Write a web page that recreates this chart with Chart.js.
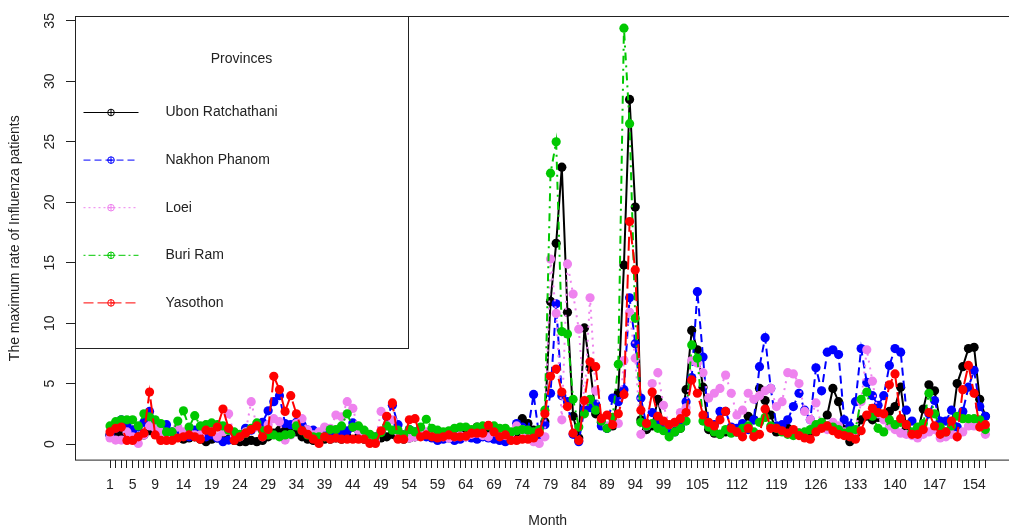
<!DOCTYPE html>
<html>
<head>
<meta charset="utf-8">
<script src="https://cdn.jsdelivr.net/npm/chart.js@4.4.0/dist/chart.umd.min.js"></script>
<style>
  html, body { margin: 0; padding: 0; background: #fff; overflow: hidden; }
  #wrap { width: 1030px; height: 530px; }
</style>
</head>
<body>
<div id="wrap"><canvas id="chart"></canvas></div>
<script>
// months 1..156 on the x axis
const months = Array.from({ length: 156 }, (_, i) => i + 1);
const labeledMonths = [1, 5, 9, 14, 19, 24, 29, 34, 39, 44, 49, 54, 59, 64, 69, 74, 79, 84, 89, 94, 99, 105, 112, 119, 126, 133, 140, 147, 154];
const yTicks = [0, 5, 10, 15, 20, 25, 30, 35];

const provinces = ["Ubon Ratchathani", "Nakhon Phanom", "Loei", "Buri Ram", "Yasothon"];

const ubon = [
  0.75, 0.6, 0.9, 0.8, 1.15, 0.6, 0.75, 1.1, 1.2, 0.5,
  0.4, 0.5, 0.6, 0.4, 0.5, 0.6, 0.4, 0.2, 0.4, 0.5,
  0.3, 0.4, 0.3, 0.2, 0.2, 0.3, 0.2, 0.3, 0.6, 0.9,
  1.15, 1.4, 1.4, 1.0, 0.6, 0.4, 0.3, 0.2, 0.4, 0.4,
  0.5, 0.4, 0.6, 1.4, 0.6, 0.4, 0.3, 0.3, 0.5, 0.6,
  0.8, 0.5, 0.4, 0.5, 0.6, 0.7, 0.8, 0.7, 0.6, 0.5,
  0.6, 0.7, 0.8, 0.9, 1.0, 1.4, 1.1, 0.9, 0.8, 0.7,
  0.6, 0.5, 1.0, 2.1, 1.7, 1.15, 0.9, 1.85, 11.8, 16.6,
  22.9, 10.9, 2.3, 0.5, 9.6, 6.3, 2.5, 1.8, 1.3, 1.5,
  4.2, 14.8, 28.5, 19.6, 2.0, 1.2, 1.5, 3.7, 1.5, 1.2,
  1.2, 1.3, 4.5, 9.4, 7.8, 4.7, 1.2, 0.9, 0.8, 1.0,
  1.2, 1.0, 1.5, 2.3, 2.0, 4.6, 3.6, 2.4, 1.0, 1.2,
  1.3, 1.0, 0.9, 0.7, 1.0, 1.5, 1.7, 2.4, 4.6, 3.5,
  1.2, 0.2, 0.8, 2.0, 2.3, 2.0, 2.2, 2.4, 2.7, 3.1,
  4.7, 1.3, 0.9, 1.0, 2.9, 4.9, 4.4, 1.8, 0.9, 1.4,
  5.0, 6.4, 7.9, 8.0, 3.7, 2.3
];

const nakhon = [
  0.75, 1.3, 2.0, 1.6, 1.15, 1.4, 1.8, 2.7, 1.8, 1.15,
  1.6, 1.0, 1.15, 0.75, 0.6, 1.15, 0.75, 0.6, 0.75, 0.5,
  0.2, 0.33, 0.5, 0.75, 1.3, 1.15, 1.6, 1.8, 2.75, 3.5,
  4.0, 1.7, 1.6, 1.8, 1.6, 1.15, 1.15, 0.95, 1.15, 0.75,
  0.9, 1.0, 1.1, 1.75, 1.15, 1.0, 0.75, 0.6, 1.0, 2.25,
  3.2, 1.6, 0.75, 1.2, 1.0, 0.8, 0.6, 0.5, 0.3, 0.4,
  0.5, 0.3, 0.4, 0.6, 0.5, 0.4, 0.6, 0.5, 0.4, 0.3,
  0.2, 0.4, 1.7, 1.4, 1.15, 4.1, 0.6, 1.6, 4.2, 11.6,
  4.0, 3.5, 0.8, 0.2, 2.9, 3.0, 3.3, 1.5, 1.3, 3.8,
  3.5, 4.5, 12.1, 8.3, 3.8, 1.5, 2.6, 2.0, 1.3, 1.2,
  1.0, 1.4, 3.5, 5.5, 12.6, 7.2, 1.6, 1.6, 2.7, 2.7,
  1.4, 1.3, 1.7, 1.2, 2.0, 6.4, 8.8, 4.6, 1.5, 1.6,
  2.0, 3.1, 4.2, 2.8, 2.0, 6.3, 4.4, 7.6, 7.8, 7.4,
  2.0, 1.5, 3.5, 7.9, 5.1, 4.0, 3.2, 4.0, 6.5, 7.9,
  7.6, 2.8, 1.9, 1.3, 1.0, 2.5, 3.6, 1.9, 1.9, 2.8,
  1.4, 2.7, 4.7, 6.1, 3.1, 2.3
];

const loei = [
  0.5, 0.33, 0.33, 1.0, 0.6, 0.05, 0.75, 1.5, 1.3, 1.0,
  0.8, 0.8, 1.4, 1.0, 0.9, 0.75, 0.75, 1.6, 1.2, 0.6,
  1.0, 2.5, 0.75, 0.6, 1.0, 3.5, 1.4, 0.6, 1.6, 2.1,
  1.85, 0.33, 0.75, 1.7, 2.1, 1.15, 0.75, 1.0, 1.4, 1.3,
  2.4, 2.25, 3.5, 2.95, 1.15, 0.75, 0.6, 0.33, 2.7, 1.5,
  2.0, 1.0, 0.6, 0.5, 0.6, 0.8, 1.0, 0.9, 0.7, 0.6,
  0.5, 0.6, 0.7, 0.6, 0.8, 0.9, 0.7, 0.6, 1.0, 0.8,
  0.7, 0.9, 1.5, 1.2, 0.8, 0.2, 0.05, 0.6, 15.3, 10.8,
  2.0, 14.9, 12.4, 9.5, 3.5, 12.1, 4.4, 2.0, 1.5, 1.8,
  1.7, 6.9, 10.9, 7.1, 0.8, 1.5, 5.0, 5.9, 3.2, 1.6,
  1.8, 2.6, 3.0, 6.9, 6.7, 5.9, 3.8, 4.2, 4.6, 5.7,
  4.2, 2.4, 2.8, 4.2, 3.7, 4.0, 4.4, 4.6, 3.1, 3.5,
  5.9, 5.8, 5.0, 2.7, 2.0, 3.4, 1.5, 1.2, 1.8, 1.5,
  1.0, 0.8, 1.0, 3.5, 7.8, 5.2, 2.5, 2.0, 1.5, 1.2,
  0.9, 0.8, 0.7, 0.5, 0.8, 1.0, 1.2, 0.5, 0.6, 0.8,
  0.6, 1.0, 1.5, 1.5, 1.5, 0.8
];

const buriRam = [
  1.5, 1.85, 2.0, 2.0, 2.0, 1.5, 2.5, 2.25, 2.0, 1.7,
  1.0, 1.0, 1.9, 2.75, 1.4, 2.35, 1.5, 1.6, 1.75, 1.6,
  1.5, 1.15, 1.0, 0.8, 0.9, 1.3, 1.75, 1.1, 0.75, 0.75,
  0.6, 0.75, 0.8, 1.5, 1.1, 0.75, 0.6, 0.6, 0.6, 1.2,
  1.2, 1.5, 2.5, 1.4, 1.5, 1.15, 0.8, 0.6, 0.95, 1.5,
  1.15, 1.15, 0.75, 1.2, 1.0, 1.4, 2.05, 1.3, 1.15, 1.0,
  1.1, 1.3, 1.4, 1.4, 1.2, 1.4, 1.5, 1.5, 1.5, 1.3,
  1.3, 1.0, 1.1, 1.2, 1.15, 1.0, 1.2, 2.8, 22.4, 25.0,
  9.3, 9.1, 3.7, 1.4, 2.5, 3.7, 2.8, 1.9, 1.3, 2.2,
  6.6, 34.4, 26.5, 10.4, 1.8, 1.5, 1.7, 1.3, 1.1, 0.6,
  1.0, 1.3, 1.9, 8.2, 7.1, 1.9, 1.4, 1.0, 0.8, 1.2,
  0.9, 1.0, 1.3, 1.5, 1.0, 1.8, 2.2, 1.5, 1.3, 1.0,
  0.8, 0.7, 0.9, 1.0, 1.2, 1.6, 1.8, 1.5, 1.4, 1.2,
  0.9, 1.1, 1.2, 3.7, 4.3, 2.3, 1.3, 1.0, 2.0, 1.6,
  1.8, 1.6, 1.0, 1.4, 1.7, 4.2, 2.5, 1.4, 1.0, 1.5,
  2.3, 2.1, 2.1, 2.1, 2.0, 1.2
];

const yasothon = [
  1.0, 1.3, 1.4, 0.3, 0.3, 0.6, 0.9, 4.3, 0.75, 0.3,
  0.3, 0.3, 0.5, 0.6, 0.75, 0.6, 0.4, 1.15, 1.0, 1.4,
  2.9, 1.3, 0.3, 0.6, 0.9, 1.2, 1.5, 0.6, 1.2, 5.6,
  4.5, 2.7, 4.0, 2.5, 1.1, 0.8, 0.4, 0.05, 0.6, 0.4,
  0.5, 0.4, 0.4, 0.4, 0.4, 0.4, 0.05, 0.05, 1.1, 2.3,
  3.4, 0.4, 0.4, 2.0, 2.1, 0.6, 0.75, 0.6, 0.5, 0.6,
  0.75, 0.6, 0.6, 0.65, 0.9, 0.9, 0.9, 1.55, 1.0, 0.6,
  0.75, 0.3, 0.3, 0.4, 0.4, 0.5, 0.95, 2.5, 5.6, 6.2,
  4.3, 3.1, 0.9, 0.3, 3.6, 6.8, 6.4, 2.1, 2.4, 1.6,
  2.5, 4.1, 18.4, 14.4, 2.8, 1.7, 4.3, 2.3, 1.9, 1.6,
  1.8, 2.1, 2.6, 5.3, 4.2, 2.4, 1.8, 1.5, 2.0, 2.7,
  1.3, 1.0, 0.6, 1.3, 0.6, 0.8, 2.9, 1.3, 1.3, 1.1,
  0.9, 1.2, 0.7, 0.5, 0.4, 1.0, 1.3, 1.5, 1.1, 0.8,
  0.7, 0.6, 0.4, 1.1, 2.4, 2.95, 2.6, 2.5, 4.9, 5.8,
  2.1, 1.6, 0.8, 0.8, 1.2, 2.6, 1.5, 0.8, 1.0, 1.9,
  0.6, 4.5, 6.5, 4.2, 1.4, 1.6
];

const FONT = "'Liberation Sans', Arial, sans-serif";
const TEXT = "#222";
Chart.defaults.font.family = FONT;
Chart.defaults.font.size = 14;
Chart.defaults.color = TEXT;

// pair each value with its month
const toPoints = (values) => values.map((v, i) => ({ x: months[i], y: v }));

const lineDataset = (label, values, color, dash, order) => ({
  label: label,
  data: toPoints(values),
  borderColor: color,
  backgroundColor: color,
  borderWidth: 2,
  borderDash: dash,
  pointRadius: 4.6,
  pointBorderWidth: 0,
  pointBackgroundColor: color,
  tension: 0,
  order: order,
});

const datasets = [
  lineDataset(provinces[0], ubon, "#000000", [], 4),
  lineDataset(provinces[1], nakhon, "#0000ff", [8, 5], 3),
  lineDataset(provinces[2], loei, "#ee82ee", [2, 5], 2),
  lineDataset(provinces[3], buriRam, "#00c800", [2, 5, 8, 5], 1),
  lineDataset(provinces[4], yasothon, "#ff0000", [14, 5], 0),
];

// R style box around the plot region
const plotBox = {
  id: "plotBox",
  afterDraw(chart) {
    const { ctx, chartArea: a } = chart;
    ctx.save();
    ctx.strokeStyle = TEXT;
    ctx.lineWidth = 1;
    ctx.strokeRect(Math.round(a.left) + 0.5, Math.round(a.top) + 0.5, a.right - a.left, a.bottom - a.top);
    ctx.restore();
  },
};

// legend box in the top left corner, like legend("topleft", ...) in R
const legendDash = [[], [7, 4], [2, 3], [2, 3, 7, 3], [10, 4]];
const rLegend = {
  id: "rLegend",
  afterDraw(chart) {
    const { ctx, chartArea: a } = chart;
    const left = Math.round(a.left) + 0.5;
    const top = Math.round(a.top) + 0.5;
    ctx.save();
    ctx.fillStyle = "#fff";
    ctx.fillRect(left, top, 333, 332);
    ctx.strokeStyle = TEXT;
    ctx.lineWidth = 1;
    ctx.strokeRect(left, top, 333, 332);

    ctx.font = "14px " + FONT;
    ctx.fillStyle = TEXT;
    ctx.textBaseline = "middle";
    ctx.textAlign = "center";
    ctx.fillText("Provinces", left + 166, top + 43);

    ctx.textAlign = "left";
    chart.data.datasets.forEach((ds, i) => {
      const y = top + 96 + i * 47.6;
      ctx.strokeStyle = ds.borderColor;
      ctx.lineWidth = 1;
      ctx.setLineDash(legendDash[i]);
      ctx.beginPath();
      ctx.moveTo(left + 8, y);
      ctx.lineTo(left + 63, y);
      ctx.stroke();
      ctx.setLineDash([]);
      // circle with a plus
      const cx = left + 35.5;
      ctx.beginPath();
      ctx.arc(cx, y, 3.3, 0, Math.PI * 2);
      ctx.moveTo(cx - 3.3, y);
      ctx.lineTo(cx + 3.3, y);
      ctx.moveTo(cx, y - 3.3);
      ctx.lineTo(cx, y + 3.3);
      ctx.stroke();
      ctx.fillStyle = TEXT;
      ctx.fillText(ds.label, left + 90, y);
    });
    ctx.restore();
  },
};

new Chart(document.getElementById("chart"), {
  type: "line",
  data: { datasets: datasets },
  options: {
    responsive: true,
    maintainAspectRatio: false,
    animation: false,
    layout: { padding: { top: 16, right: 9.6, bottom: 0, left: 0 } },
    plugins: {
      legend: { display: false },
      tooltip: { enabled: false },
    },
    scales: {
      x: {
        type: "linear",
        min: -5.2,
        max: 162.2,
        afterBuildTicks: (s) => { s.ticks = months.map((v) => ({ value: v })); },
        afterFit: (s) => { s.height = 70; },
        grid: { display: true, drawOnChartArea: false, drawTicks: true, tickLength: 8, color: TEXT },
        border: { display: false },
        ticks: {
          autoSkip: false,
          maxRotation: 0,
          padding: 9,
          color: TEXT,
          callback: (v) => (labeledMonths.includes(v) ? String(v) : ""),
        },
        title: { display: true, text: "Month", color: TEXT, padding: { top: 0, bottom: 0 } },
      },
      y: {
        min: -1.32,
        max: 35.37,
        afterBuildTicks: (s) => { s.ticks = yTicks.map((v) => ({ value: v })); },
        afterFit: (s) => { s.width = 75; },
        grid: { display: true, drawOnChartArea: false, drawTicks: true, tickLength: 9, color: TEXT },
        border: { display: false },
        ticks: { minRotation: 90, maxRotation: 90, crossAlign: "center", padding: 8, color: TEXT },
        title: {
          display: true,
          text: "The maximum rate of Influenza patients",
          color: TEXT,
          padding: { top: 7, bottom: 0 },
        },
      },
    },
  },
  plugins: [plotBox, rLegend],
});
</script>
</body>
</html>
